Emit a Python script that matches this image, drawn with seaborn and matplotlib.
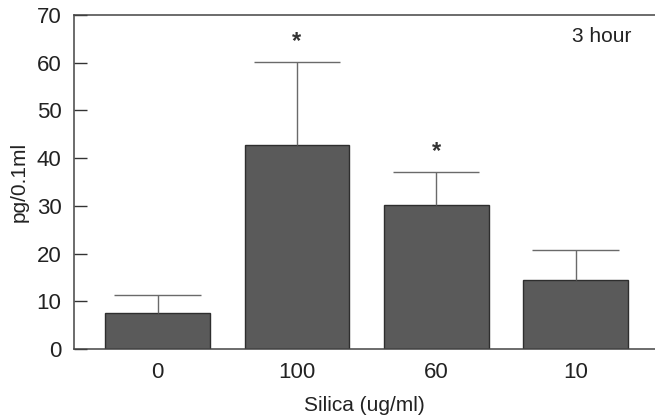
import matplotlib
matplotlib.use("Agg")
import matplotlib.pyplot as plt
import numpy as np
import pandas as pd
import seaborn as sns

# valeurs
doses = ["0", "100", "60", "10"]
moyennes = [7.5, 42.8, 30.2, 14.5]
erreurs = [3.8, 17.4, 6.9, 6.3]
significatif = [False, True, True, False]

sns.set_style("ticks")
plt.rcParams["font.family"] = ["Liberation Sans", "DejaVu Sans"]

df = pd.DataFrame({"dose": doses, "moyenne": moyennes})

fig = plt.figure(figsize=(6.55, 4.16), dpi=100)
ax = fig.add_axes([0.113, 0.161, 0.887, 0.803])

sns.barplot(data=df, x="dose", y="moyenne", order=doses, color="#5a5a5a",
            edgecolor="#2e2e2e", linewidth=1.0, width=0.75, saturation=1, ax=ax)

x = np.arange(len(doses))
hauts = np.array(moyennes) + np.array(erreurs)
ax.vlines(x, moyennes, hauts, color="#6a6a6a", linewidth=1.0)
ax.hlines(hauts, x - 0.31, x + 0.31, color="#6a6a6a", linewidth=1.0)
for xi, h, s in zip(x, hauts, significatif):
    if s:
        ax.text(xi, h + 1.8, "*", ha="center", va="bottom", fontsize=17,
                fontweight="bold", color="#333")

ax.text(0.96, 0.935, "3 hour", transform=ax.transAxes, ha="right", va="center",
        fontsize=15, color="#222")

ax.set_xlim(-0.6, 3.57)
ax.set_ylim(0, 70)
ax.set_yticks(range(0, 71, 10))
ax.tick_params(axis="y", direction="in", length=9, width=1, labelsize=16, colors="#333",
               labelcolor="#222", pad=9)
ax.tick_params(axis="x", length=0, labelsize=16, labelcolor="#222", pad=9)
ax.set_xlabel("Silica (ug/ml)", fontsize=15, color="#222", labelpad=10)
ax.set_ylabel("pg/0.1ml", fontsize=15, color="#222", labelpad=6)

for cote in ["top", "left", "bottom"]:
    ax.spines[cote].set_color("#444")
    ax.spines[cote].set_linewidth(1.1)
ax.spines["right"].set_visible(False)

fig.savefig("out.png", dpi=100)
plt.close(fig)
